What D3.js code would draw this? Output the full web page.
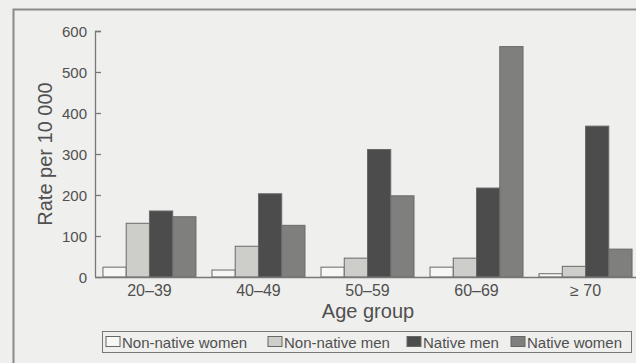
<!DOCTYPE html>
<html><head><meta charset="utf-8">
<script src="https://cdn.jsdelivr.net/npm/d3@7"></script>
<style>body{margin:0;background:#efefed;}svg{display:block;font-family:"Liberation Sans",Arial,sans-serif;}</style>
</head><body><svg id="c" width="636" height="363"></svg>
<script>
const categories = ["20\u201339","40\u201349","50\u201359","60\u201369","\u2265 70"];
const seriesNames = ["Non-native women","Non-native men","Native men","Native women"];
const nonNativeWomen = [24, 17, 24, 24, 8];
const nonNativeMen = [131, 75, 46, 46, 26];
const nativeMen = [161, 203, 311, 217, 368];
const nativeWomen = [147, 126, 198, 562, 68];
const yTicks = [0,100,200,300,400,500,600];
const seriesValues = [nonNativeWomen, nonNativeMen, nativeMen, nativeWomen];
const fills = ["#f7f7f5","#cdcdca","#4c4c4c","#7f7f7d"];

const svg = d3.select("#c");
const textCol = "#505050";
// frame
svg.append("rect").attr("x",13.5).attr("y",9.5).attr("width",640).attr("height",360)
  .attr("fill","#efefed").attr("stroke","#8a8a8a").attr("stroke-width",2);

const x0 = d3.scaleBand().domain(categories).range([95, 640]).paddingInner(0.147).paddingOuter(0.073);
const x1 = d3.scaleBand().domain(seriesNames).range([0, x0.bandwidth()]);
const y = d3.scaleLinear().domain([0,600]).range([277,31]);

// y axis
const yAxis = svg.append("g").attr("transform","translate(95,0)")
  .call(d3.axisRight(y).tickValues(yTicks).tickSize(6).tickFormat(""));
yAxis.select(".domain").attr("stroke","#777").attr("stroke-width",1.3).attr("d","M6,31.5H0.5V277");
yAxis.selectAll(".tick line").attr("stroke","#777").attr("stroke-width",1.3);
svg.append("g").selectAll("text").data(yTicks).join("text")
  .attr("x",87).attr("y",d=>y(d)+5.5).attr("text-anchor","end")
  .attr("font-size",15).attr("fill",textCol).text(d=>d);

// bars
const g = svg.append("g");
categories.forEach((c,i)=>{
  seriesNames.forEach((s,j)=>{
    g.append("rect").attr("x",x0(c)+x1(s)).attr("y",y(seriesValues[j][i]))
      .attr("width",x1.bandwidth()).attr("height",y(0)-y(seriesValues[j][i]))
      .attr("fill",fills[j]).attr("stroke","#6a6a6a").attr("stroke-width",1);
  });
});

// baseline
svg.append("line").attr("x1",95).attr("x2",640).attr("y1",277.5).attr("y2",277.5)
  .attr("stroke","#777").attr("stroke-width",1.4);

// x labels
svg.append("g").selectAll("text").data(categories).join("text")
  .attr("x",d=>x0(d)+x0.bandwidth()/2).attr("y",296).attr("text-anchor","middle")
  .attr("font-size",16).attr("fill",textCol).text(d=>d);

svg.append("text").attr("x",368).attr("y",318).attr("text-anchor","middle")
  .attr("font-size",20).attr("fill",textCol).text("Age group");
svg.append("text").attr("transform","translate(52,154) rotate(-90)").attr("text-anchor","middle")
  .attr("font-size",20).attr("fill",textCol).text("Rate per 10 000");

// legend
svg.append("rect").attr("x",102.5).attr("y",331.5).attr("width",529).attr("height",21)
  .attr("fill","none").attr("stroke","#777").attr("stroke-width",1);
const legX = [106, 268, 407, 511];
seriesNames.forEach((s,j)=>{
  svg.append("rect").attr("x",legX[j]).attr("y",336.5).attr("width",14).attr("height",10)
    .attr("fill",fills[j]).attr("stroke","#666").attr("stroke-width",1);
  svg.append("text").attr("x",legX[j]+16).attr("y",347.5).attr("font-size",15)
    .attr("fill",textCol).text(s);
});
</script></body></html>
